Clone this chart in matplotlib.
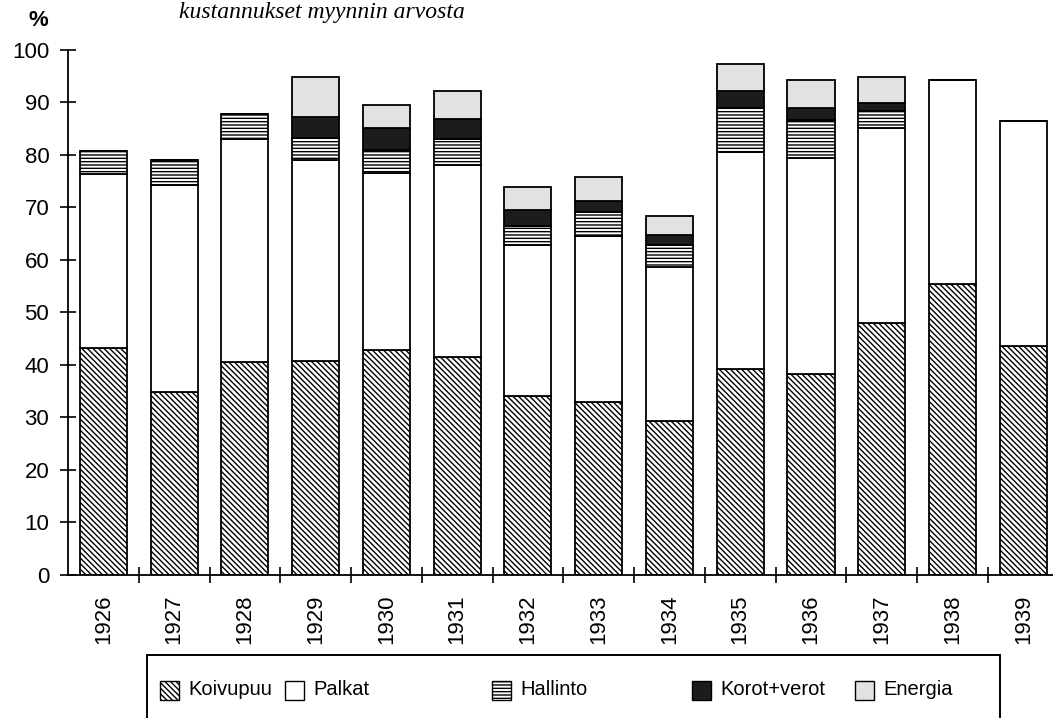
import numpy as np
import matplotlib.pyplot as plt
from matplotlib.patches import Rectangle

plt.rcParams['font.family'] = ['Liberation Sans', 'DejaVu Sans']
plt.rcParams['hatch.linewidth'] = 1.0

years = ['1926', '1927', '1928', '1929', '1930', '1931', '1932',
         '1933', '1934', '1935', '1936', '1937', '1938', '1939']
koivupuu = [43.2, 34.9, 40.5, 40.7, 42.9, 41.6, 34.1, 32.9, 29.4, 39.3, 38.2, 48.0, 55.5, 43.7]
palkat = [33.1, 39.4, 42.6, 38.4, 33.6, 36.5, 28.8, 31.6, 29.3, 41.3, 41.2, 37.1, 38.8, 42.8]
hallinto = [4.5, 4.8, 4.7, 4.2, 4.5, 5.0, 3.5, 4.6, 4.2, 8.3, 7.3, 3.2, 0, 0]
korot = [0, 0, 0, 4.0, 4.1, 3.8, 3.1, 2.2, 1.9, 3.2, 2.2, 1.6, 0, 0]
energia = [0, 0, 0, 7.5, 4.4, 5.2, 4.4, 4.5, 3.5, 5.2, 5.4, 4.9, 0, 0]

names = ['Koivupuu', 'Palkat', 'Hallinto', 'Korot+verot', 'Energia']
faces = ['white', 'white', 'white', '#1c1c1c', '#e2e2e2']
hatches = ['\\\\\\\\\\\\', None, '-----', None, None]

fig = plt.figure(figsize=(10.53, 7.18), dpi=100)
ax = fig.add_axes([0.0646, 0.1992, 0.9354, 0.7312])

x = np.arange(len(years))
bottom = np.zeros(len(years))
for vals, fc, h in zip([koivupuu, palkat, hallinto, korot, energia], faces, hatches):
    vals = np.array(vals)
    ax.bar(x, vals, 0.665, bottom=bottom, facecolor=fc, edgecolor='black',
           hatch=h, linewidth=1.3)
    bottom += vals

ax.set_xlim(-0.5, 13.42)
ax.set_ylim(0, 100)
ax.spines['top'].set_visible(False)
ax.spines['right'].set_visible(False)
ax.spines['left'].set_linewidth(1.3)
ax.spines['bottom'].set_linewidth(1.3)

ax.set_yticks(range(0, 101, 10))
ax.tick_params(axis='y', direction='inout', length=11, width=1.2, labelsize=16, pad=8)
ax.set_xticks(x, years, rotation=90)
ax.tick_params(axis='x', which='major', length=0, labelsize=16, pad=14)
ax.set_xticks(x[:-1] + 0.5, minor=True)
ax.tick_params(axis='x', which='minor', direction='inout', length=11, width=1.2)

fig.text(0.036, 0.971, '%', fontsize=16, fontweight='bold', ha='center', va='center')
fig.text(0.17, 0.975, 'kustannukset myynnin arvosta', family='Liberation Serif',
         style='italic', fontsize=17, va='baseline')

# legend box, cut at the bottom like in the original
fig.add_artist(Rectangle((147 / 1053, -0.05), 853 / 1053, 0.1377, fill=False,
                         linewidth=1.4, edgecolor='black', transform=fig.transFigure))
key_x = [160, 285, 492, 692, 855]
for kx, name, fc, h in zip(key_x, names, faces, hatches):
    fig.add_artist(Rectangle((kx / 1053, 0.0255), 19 / 1053, 0.0265, facecolor=fc,
                             edgecolor='black', hatch=h, linewidth=1.0,
                             transform=fig.transFigure))
    fig.text((kx + 28) / 1053, 0.039, name, fontsize=14.5, va='center')

fig.savefig('out.png', dpi=100)
